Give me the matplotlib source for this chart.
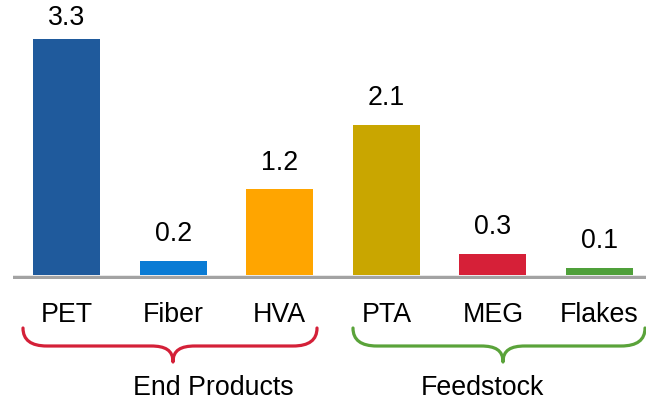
import numpy as np
import matplotlib
matplotlib.use("Agg")
import matplotlib.pyplot as plt
from matplotlib.path import Path
from matplotlib.patches import PathPatch

plt.rcParams['font.family'] = ['Liberation Sans', 'DejaVu Sans']

# data
categories = ['PET', 'Fiber', 'HVA', 'PTA', 'MEG', 'Flakes']
values = [3.3, 0.2, 1.2, 2.1, 0.3, 0.1]
colors = ['#1f5a9c', '#0a7bd4', '#ffa500', '#c9a600', '#d62038', '#4fa03a']
groups = ['End Products', 'Feedstock']
group_colors = ['#d42038', '#5aa33a']

W, H = 646, 401
PX = 71.5  # pixels per unit

fig = plt.figure(figsize=(W / 100, H / 100), dpi=100)

# main bar axes, placed in pixel units (zero line at 275 px from the top)
ax = fig.add_axes([13 / W, 122 / H, (W - 13) / W, (H - 122) / H])
x = np.arange(len(categories))
bars = ax.bar(x, values, width=0.628, color=colors, zorder=2)
ax.set_xlim(-0.502, 5.436)
ax.set_ylim(-4 / PX, 275 / PX)
ax.axhline(-1.75 / PX, color='#a3a3a3', lw=2.5, zorder=1)
for s in ax.spines.values():
    s.set_visible(False)
ax.set_yticks([])
ax.set_xticks(x)
ax.set_xticklabels(categories, fontsize=19.3)
ax.tick_params(axis='x', length=0, pad=16.5)

# value labels above bars (kept inside the figure for the tall bar)
for b, v in zip(bars, values):
    top_px = b.get_height() * PX
    off = 14
    if 275 - top_px - off / 0.72 < 26:
        off = (275 - top_px - 25) * 0.72
    ax.annotate(f'{v:.1f}', (b.get_x() + b.get_width() / 2, v),
                xytext=(0, off), textcoords='offset points',
                ha='center', va='baseline', fontsize=19.3)

# overlay in pixel coordinates for the group braces
ov = fig.add_axes([0, 0, 1, 1])
ov.set_xlim(0, W)
ov.set_ylim(H, 0)
ov.axis('off')


def brace(x0, x1, xc, y0=328, y1=346, ytip=362):
    verts = [(x0, y0), (x0, y0 + 12), (x0 + 8, y1), (x0 + 24, y1),
             (xc - 22, y1),
             (xc - 8, y1), (xc, y1 + 4), (xc, ytip),
             (xc, y1 + 4), (xc + 8, y1), (xc + 22, y1),
             (x1 - 24, y1),
             (x1 - 8, y1), (x1, y0 + 12), (x1, y0)]
    codes = [Path.MOVETO, Path.CURVE4, Path.CURVE4, Path.CURVE4,
             Path.LINETO,
             Path.CURVE4, Path.CURVE4, Path.CURVE4,
             Path.CURVE4, Path.CURVE4, Path.CURVE4,
             Path.LINETO,
             Path.CURVE4, Path.CURVE4, Path.CURVE4]
    return Path(verts, codes)


brace_spans = [(23, 317, 173), (353, 645, 503)]
label_x = [213, 482]
for (x0, x1, xc), name, c, lx in zip(brace_spans, groups, group_colors, label_x):
    ov.add_patch(PathPatch(brace(x0, x1, xc), fill=False, ec=c, lw=2.3,
                           capstyle='round', joinstyle='round'))
    ov.text(lx, 395, name, ha='center', va='baseline', fontsize=19.3)

fig.savefig('out.png', dpi=100)
